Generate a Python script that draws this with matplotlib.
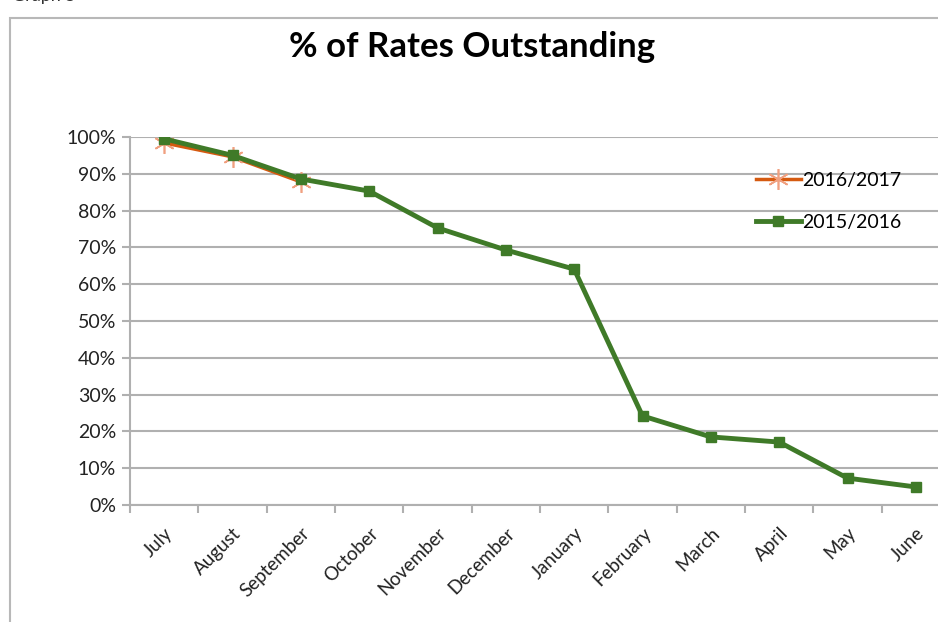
import matplotlib as mpl
mpl.use('Agg')
import matplotlib.pyplot as plt
from matplotlib.patches import Rectangle

plt.rcParams['font.family'] = ['Lato', 'DejaVu Sans']

months = ["July", "August", "September", "October", "November", "December",
          "January", "February", "March", "April", "May", "June"]
rates_1617 = [98.4, 94.6, 87.8]
rates_1516 = [99.5, 95.0, 88.6, 85.3, 75.3, 69.3, 64.1, 24.2, 18.5, 17.1, 7.3, 4.9]

fig = plt.figure(figsize=(9.38, 6.22), dpi=100)

# outer chart frame (cropped screenshot look)
fig.patches.append(Rectangle((10/938, -0.05), 1.0, 1 - 18/622 + 0.05,
                             transform=fig.transFigure, fill=False,
                             edgecolor='#b8b8b8', linewidth=1.5))
fig.text(12/938, 1.0 + 4/622, "Graph 5", fontsize=13, color='#333333',
         va='center', ha='left')

ax = fig.add_axes([130/938, 1 - 505/622, 820/938, 368/622])

x = list(range(len(months)))
ax.plot(x[:len(rates_1617)], rates_1617, color='#d55a10', linewidth=2.5,
        marker=(6, 2, 0), markersize=15, markeredgecolor='#f0a080',
        markeredgewidth=1.2, label="2016/2017", zorder=3)
ax.plot(x, rates_1516, color='#3f7a28', linewidth=3.5, marker='s',
        markersize=7, markerfacecolor='#3f7a28', markeredgecolor='#3f7a28',
        label="2015/2016", zorder=4)

ax.set_xlim(-0.5, len(months) - 0.5)
ax.set_ylim(0, 100)
ax.set_yticks(range(0, 101, 10))
ax.set_yticklabels([f"{v}%" for v in range(0, 101, 10)], fontsize=14,
                   color='#222222')
ax.yaxis.grid(True, color='#b0b0b0', linewidth=1.5)
ax.set_axisbelow(True)

ax.set_xticks(x)
ax.set_xticklabels(months, rotation=45, ha='right', rotation_mode='anchor',
                   fontsize=13.5, color='#222222')
ax.set_xticks([i - 0.5 for i in range(len(months) + 1)], minor=True)
ax.tick_params(axis='x', which='major', length=0, pad=14)
ax.tick_params(axis='x', which='minor', length=6, color='#b0b0b0', width=1.5)
ax.tick_params(axis='y', length=6, color='#b0b0b0', width=1.5, pad=4)

for s in ['top', 'right']:
    ax.spines[s].set_visible(False)
for s in ['left', 'bottom']:
    ax.spines[s].set_color('#b0b0b0')
    ax.spines[s].set_linewidth(1.5)

fig.text(472/938, 1 - 47/622, "% of Rates Outstanding", fontsize=25,
         fontweight='bold', ha='center', va='center')

leg = ax.legend(loc='upper left', bbox_to_anchor=((756 - 130)/820, (505 - 172)/368),
                frameon=False, fontsize=14, handlelength=2.3,
                labelspacing=1.3, handletextpad=0.05, borderpad=0,
                borderaxespad=0)

fig.savefig('out.png', dpi=100)
